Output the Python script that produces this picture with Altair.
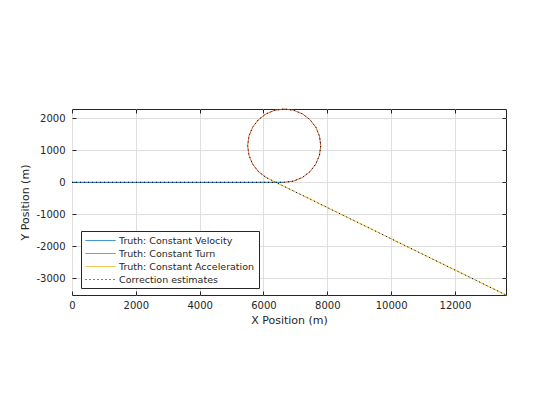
import altair as alt
import pandas as pd

# ---- data ----
series_names = [
    "Truth: Constant Velocity",
    "Truth: Constant Turn",
    "Truth: Constant Acceleration",
    "Correction estimates",
]
series_colors = ["#0072BD", "#D95319", "#EDB120", "#000000"]
series_dashes = [[1, 0], [1, 0], [1, 0], [1, 3]]

# constant velocity leg
cv_x = [0, 6650]
cv_y = [0, 0]

# constant turn leg (read around the circle)
ct_x = [6650, 6946, 7222, 7460, 7642, 7756, 7795, 7756, 7642, 7460, 7222, 6946,
        6650, 6354, 6078, 5840, 5658, 5544, 5505, 5544, 5658, 5840, 6078, 6148]
ct_y = [0, 39, 153, 335, 572, 849, 1145, 1441, 1718, 1955, 2137, 2251,
        2290, 2251, 2137, 1955, 1718, 1441, 1145, 849, 572, 335, 153, 116]

# constant acceleration leg
ca_x = [6148, 13600]
ca_y = [116, -3520]

x_ticks = [0, 2000, 4000, 6000, 8000, 10000, 12000]
y_ticks = [-3000, -2000, -1000, 0, 1000, 2000]
x_domain = [0, 13600]
y_domain = [-3520, 2290]

# ---- tables ----
truth_rows = []
for name, xs, ys in zip(series_names[:3], [cv_x, ct_x, ca_x], [cv_y, ct_y, ca_y]):
    for i, (a, b) in enumerate(zip(xs, ys)):
        truth_rows.append({"x": a, "y": b, "series": name, "order": i})
truth = pd.DataFrame(truth_rows)

est_rows = []
k = 0
for xs, ys in zip([cv_x, ct_x, ca_x], [cv_y, ct_y, ca_y]):
    for a, b in zip(xs, ys):
        est_rows.append({"x": a, "y": b, "series": series_names[3], "order": k})
        k += 1
est = pd.DataFrame(est_rows)

TXT = "#262626"
FONT = "DejaVu Sans"

xs_scale = alt.Scale(domain=x_domain, nice=False, zero=False)
ys_scale = alt.Scale(domain=y_domain, nice=False, zero=False)

legend = alt.Legend(
    orient="none", legendX=9, legendY=122, title=None,
    symbolType="M-1,0H5", symbolSize=100, symbolStrokeWidth=1,
    labelFontSize=9.5, labelColor=TXT, labelFont=FONT, labelOffset=23,
    rowPadding=3, padding=4, strokeColor=TXT, fillColor="white",
)
color_enc = alt.Color("series:N", scale=alt.Scale(domain=series_names, range=series_colors),
                      legend=legend)
dash_enc = alt.StrokeDash("series:N", scale=alt.Scale(domain=series_names, range=series_dashes),
                          legend=legend)

axis_common = dict(labelFontSize=10, labelColor=TXT, labelFont=FONT, tickColor=TXT,
                   tickSize=4, offset=-4, domain=False, titleFontSize=11,
                   titleFont=FONT, titleFontWeight="normal", titleColor=TXT,
                   gridColor="#dedede", gridWidth=1, labelFlush=False,
                   labelExpr="'' + datum.value")

x_bottom = alt.Axis(orient="bottom", values=x_ticks, grid=True, labelPadding=5,
                    title="X Position (m)", titlePadding=4, **axis_common)
y_left = alt.Axis(orient="left", values=y_ticks, grid=True, labelPadding=7,
                  title="Y Position (m)", titlePadding=5, **axis_common)
x_top = alt.Axis(orient="top", values=x_ticks, grid=False, labels=False, title=None,
                 tickColor=TXT, tickSize=4, offset=-4, domain=False)
y_right = alt.Axis(orient="right", values=y_ticks, grid=False, labels=False, title=None,
                   tickColor=TXT, tickSize=4, offset=-4, domain=False)

truth_layer = alt.Chart(truth).mark_line(strokeWidth=1).encode(
    x=alt.X("x:Q", scale=xs_scale, axis=x_bottom),
    y=alt.Y("y:Q", scale=ys_scale, axis=y_left),
    color=color_enc,
    strokeDash=dash_enc,
    order="order:Q",
)

est_layer = alt.Chart(est).mark_line(strokeWidth=1).encode(
    x=alt.X("x:Q", scale=xs_scale, axis=x_top),
    y=alt.Y("y:Q", scale=ys_scale, axis=y_right),
    color=color_enc,
    strokeDash=dash_enc,
    order="order:Q",
)

chart = alt.layer(truth_layer, est_layer).resolve_axis(
    x="independent", y="independent"
).properties(
    width=434, height=186,
    autosize=alt.AutoSizeParams(type="none"),
    padding={"left": 64, "top": 101, "right": 46, "bottom": 117},
    background="white",
).configure_view(stroke=TXT, strokeWidth=1)

chart.save("out.html", embed_options={"renderer": "svg", "actions": False})
